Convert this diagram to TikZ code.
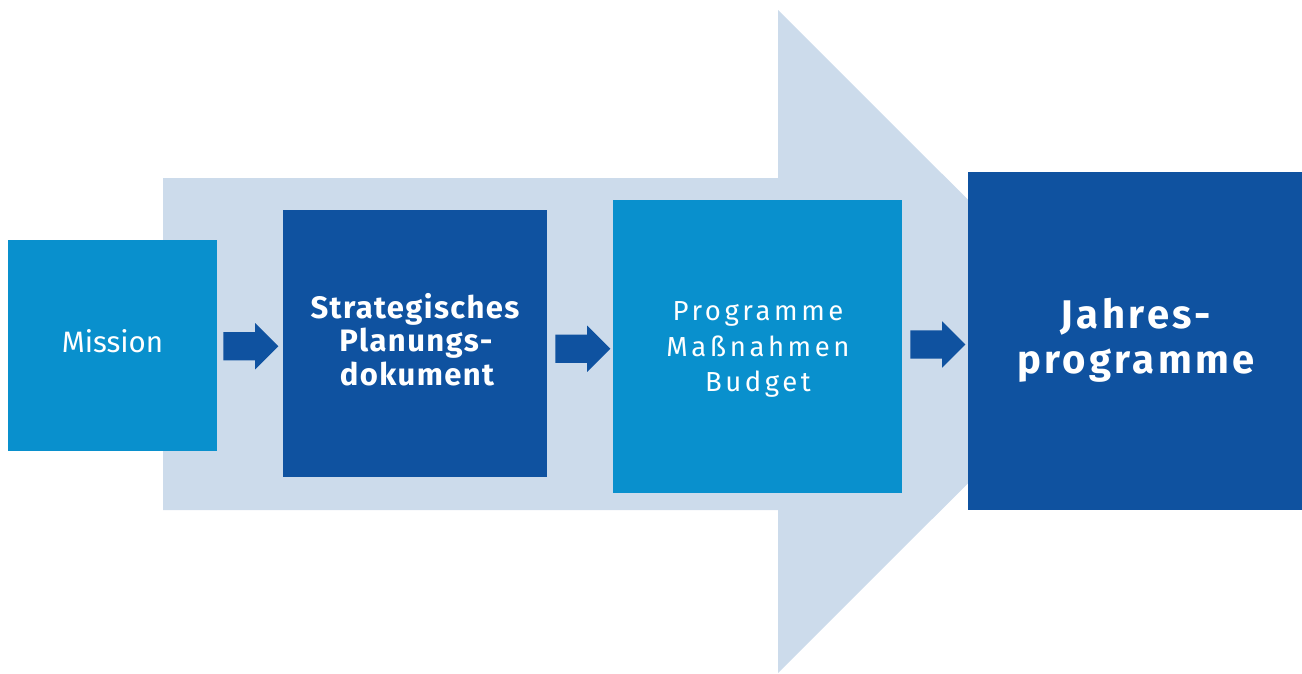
\documentclass[tikz,border=0pt]{standalone}
\usepackage{fontspec}
\setmainfont{Fira Sans}
\newfontfamily\missionfont{Fira Sans}
\newfontfamily\progfont[LetterSpace=13]{Fira Sans}
\newfontfamily\stratfont[LetterSpace=4.5]{Fira Sans}
\newfontfamily\jahrfont[LetterSpace=8.5]{Fira Sans}
\usetikzlibrary{shapes.arrows,calc}
\definecolor{lightbg}{HTML}{CCDBEB}
\definecolor{darkblue}{HTML}{0F52A0}
\definecolor{midblue}{HTML}{0990CD}
\tikzset{
  box/.style={anchor=north west, inner sep=0pt},
  boxtext/.style={inner sep=0pt, anchor=base, text=white},
  misstext/.style={boxtext, font=\missionfont\fontsize{29.5}{30}\selectfont},
  strattext/.style={boxtext, font=\stratfont\fontsize{31}{33}\selectfont\bfseries},
  progtext/.style={boxtext, font=\progfont\fontsize{27.5}{35}\selectfont},
  jahrtext/.style={boxtext, font=\jahrfont\fontsize{40}{45}\selectfont\bfseries},
  smallarrow/.style={single arrow, fill=darkblue, draw=none, inner xsep=0pt, inner ysep=14pt,
    single arrow head extend=9pt, single arrow head indent=0pt, minimum height=55pt, single arrow tip angle=90}
}
\begin{document}
\begin{tikzpicture}[x=1pt,y=-1pt]
\useasboundingbox (0,0) rectangle (1302,673);
% big background arrow
\fill[lightbg] (163,178) -- (778,178) -- (778,10) -- (1110,341.5) -- (778,673) -- (778,510) -- (163,510) -- cycle;
% boxes
\node[box, fill=midblue, minimum width=209pt, minimum height=211pt] (mission) at (8,240) {};
\node[box, fill=darkblue, minimum width=264pt, minimum height=267pt] (strat) at (283,210) {};
\node[box, fill=midblue, minimum width=289pt, minimum height=293pt] (prog) at (613,200) {};
\node[box, fill=darkblue, minimum width=334pt, minimum height=338pt] (jahr) at (968,172) {};
% texts (one node per line, on its baseline)
\node[misstext] (m1) at (112.5,352.7) {Mission};
\node[strattext] (s1) at (415,318.3) {Strategisches};
\node[strattext] (s2) at (416,351) {Planungs-};
\node[strattext] (s3) at (417,385) {dokument};
\node[progtext] (p1) at (758,320.7) {Programme};
\node[progtext] (p2) at (758,356) {Maßnahmen};
\node[progtext] (p3) at (758,391) {Budget};
\node[jahrtext] (j1) at (1136,328.3) {Jahres-};
\node[jahrtext] (j2) at (1136,373.3) {programme};
% small arrows
\node[smallarrow] (a1) at ($(mission.east)!0.5!(strat.west)+(-6.5,1.5)$) {};
\node[smallarrow] (a2) at ($(strat.east)!0.5!(prog.west)+(-4.5,3.5)$) {};
\node[smallarrow] (a3) at ($(prog.east)!0.5!(jahr.west)+(-4.5,0.5)$) {};
\end{tikzpicture}
\end{document}
